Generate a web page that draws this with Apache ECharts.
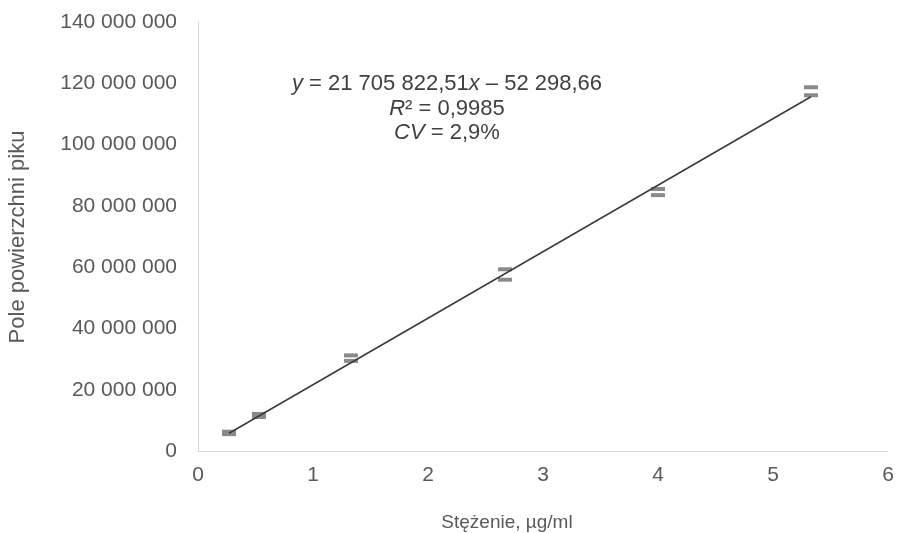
<!DOCTYPE html>
<html>
<head>
<meta charset="utf-8">
<script src="https://cdn.jsdelivr.net/npm/echarts@6/dist/echarts.min.js"></script>
<style>
html,body{margin:0;padding:0;background:#fff;}
#chart{width:900px;height:533px;}
</style>
</head>
<body>
<div id="chart"></div>
<script>
// Concentrations (µg/ml)
const concentrations = [0.27, 0.53, 1.33, 2.67, 4.0, 5.33];
// Mean peak areas
const peakAreas = [5.9e6, 11.6e6, 30.3e6, 57.6e6, 84.5e6, 117.4e6];
// Error bar half-widths (SD)
const peakSD = [0.4e6, 0.5e6, 0.9e6, 1.7e6, 1.0e6, 1.3e6];
// Trendline endpoints
const trendX = [0.27, 5.33];
const trendY = [5.8e6, 115.6e6];
// Axis ticks
const xTicks = [0, 1, 2, 3, 4, 5, 6];
const yTicks = [0, 20e6, 40e6, 60e6, 80e6, 100e6, 120e6, 140e6];
// Texts
const xTitle = 'Stężenie, µg/ml';
const yTitle = 'Pole powierzchni piku';

const FONT = '"Liberation Sans", Arial, sans-serif';
const chart = echarts.init(document.getElementById('chart'));

function fmtSpace(v) {
  return String(Math.round(v)).replace(/\B(?=(\d{3})+(?!\d))/g, ' ');
}

const errData = concentrations.map((x, i) => [x, peakAreas[i], peakSD[i]]);
const trendData = trendX.map((x, i) => [x, trendY[i]]);
const EQ_SIZE = 22;
const richI = {i: {fontStyle: 'italic', fontSize: EQ_SIZE, fontFamily: FONT, fill: '#404040'}};

chart.setOption({
  animation: false,
  backgroundColor: '#fff',
  grid: {left: 198, right: 12, top: 22, bottom: 82, containLabel: false},
  xAxis: {
    type: 'value', min: xTicks[0], max: xTicks[xTicks.length - 1], interval: 1,
    axisLine: {show: true, lineStyle: {color: '#d9d9d9', width: 1}},
    axisTick: {show: false}, splitLine: {show: false},
    axisLabel: {color: '#595959', fontSize: 21, fontFamily: FONT, margin: 14}
  },
  yAxis: {
    type: 'value', min: yTicks[0], max: yTicks[yTicks.length - 1], interval: 20e6,
    axisLine: {show: true, lineStyle: {color: '#d9d9d9', width: 1}},
    axisTick: {show: false}, splitLine: {show: false},
    axisLabel: {color: '#595959', fontSize: 21, fontFamily: FONT, margin: 21, formatter: fmtSpace}
  },
  series: [
    {
      type: 'line', data: trendData, symbol: 'none', silent: true,
      lineStyle: {color: '#3a3a3a', width: 1.5}, z: 3
    },
    {
      type: 'custom', data: errData, z: 2,
      renderItem: function (params, api) {
        const x = api.value(0), y = api.value(1), sd = api.value(2);
        const top = api.coord([x, y + sd]);
        const bot = api.coord([x, y - sd]);
        const w = 14, h = 4;
        return {
          type: 'group',
          children: [
            {type: 'rect', shape: {x: top[0] - w / 2, y: top[1] - h / 2, width: w, height: h}, style: {fill: '#8a8a8a'}},
            {type: 'rect', shape: {x: bot[0] - w / 2, y: bot[1] - h / 2, width: w, height: h}, style: {fill: '#8a8a8a'}}
          ]
        };
      }
    }
  ],
  graphic: [
    {
      type: 'text', x: 447, y: 84,
      style: {
        text: '{i|y} = 21 705 822,51{i|x} – 52 298,66', rich: richI,
        fontSize: EQ_SIZE, fontFamily: FONT, fill: '#404040', align: 'center', verticalAlign: 'middle'
      }
    },
    {
      type: 'text', x: 447, y: 109,
      style: {
        text: '{i|R}² = 0,9985', rich: richI,
        fontSize: EQ_SIZE, fontFamily: FONT, fill: '#404040', align: 'center', verticalAlign: 'middle'
      }
    },
    {
      type: 'text', x: 447, y: 133,
      style: {
        text: '{i|CV} = 2,9%', rich: richI,
        fontSize: EQ_SIZE, fontFamily: FONT, fill: '#404040', align: 'center', verticalAlign: 'middle'
      }
    },
    {
      type: 'text', x: 507, y: 523,
      style: {text: xTitle, fontSize: 19, fontFamily: FONT, fill: '#595959', align: 'center', verticalAlign: 'middle'}
    },
    {
      type: 'text', x: 18, y: 237, rotation: Math.PI / 2,
      style: {text: yTitle, fontSize: 22, fontFamily: FONT, fill: '#595959', align: 'center', verticalAlign: 'middle'}
    }
  ]
});
</script>
</body>
</html>
